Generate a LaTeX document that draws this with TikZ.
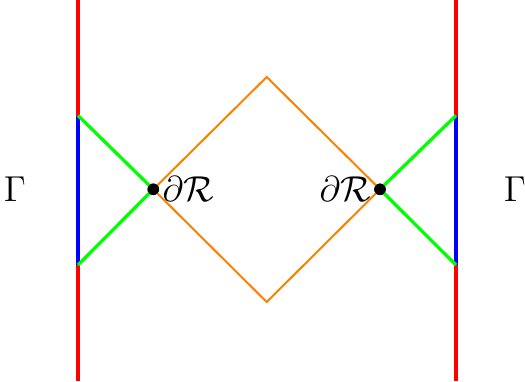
\documentclass[tikz,border=0pt]{standalone}
\begin{document}
\begin{tikzpicture}[x=0.4pt,y=-0.4pt,
  redline/.style={red,line width=1.3pt},
  blueline/.style={blue,line width=1.3pt},
  greenline/.style={green,line width=1.3pt},
  orangeline/.style={orange,line width=0.8pt},
  dotnode/.style={circle,fill=black,inner sep=0pt,minimum size=4.6pt},
  lbl/.style={font=\Large}]
\useasboundingbox (0,0) rectangle (525,381);
\coordinate (LT) at (78,0);
\coordinate (LB) at (78,381);
\coordinate (LU) at (78,115.5);
\coordinate (LD) at (78,265);
\coordinate (RT) at (456,0);
\coordinate (RB) at (456,381);
\coordinate (RU) at (456,115.5);
\coordinate (RD) at (456,265);
\node[dotnode] (L) at (153.3,189.3) {};
\node[dotnode] (R) at (380,189.3) {};
\coordinate (T) at (266.7,77);
\coordinate (B) at (266.7,302);
\draw[redline] (LT) -- (LU);
\draw[redline] (LD) -- (LB);
\draw[redline] (RT) -- (RU);
\draw[redline] (RD) -- (RB);
\draw[blueline] (LU) -- (LD);
\draw[blueline] (RU) -- (RD);
\draw[orangeline] (L.center) -- (T) -- (R.center) -- (B) -- cycle;
\draw[greenline] (LU) -- (L.center) -- (LD);
\draw[greenline] (RU) -- (R.center) -- (RD);
\node[dotnode] at (L) {};
\node[dotnode] at (R) {};
\node[lbl,anchor=west,inner sep=1pt] (LL) at (L.east) {$\partial\mathcal{R}$};
\node[lbl,anchor=east,inner sep=1pt] (RL) at (R.west) {$\partial\mathcal{R}$};
\node[lbl] (G1) at (15,189.3) {$\Gamma$};
\node[lbl] (G2) at (515,189.3) {$\Gamma$};
\end{tikzpicture}
\end{document}
